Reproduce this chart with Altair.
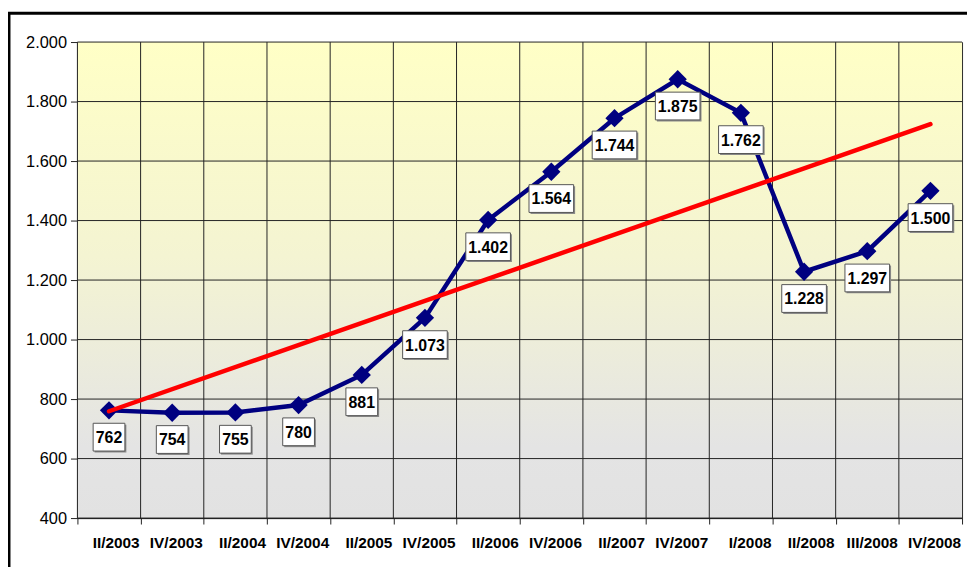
import altair as alt
import pandas as pd

categories = ["II/2003", "IV/2003", "II/2004", "IV/2004", "II/2005", "IV/2005",
              "II/2006", "IV/2006", "II/2007", "IV/2007", "I/2008", "II/2008",
              "III/2008", "IV/2008"]
values = [762, 754, 755, 780, 881, 1073, 1402, 1564, 1744, 1875, 1762, 1228, 1297, 1500]
trend_cats = ["II/2003", "IV/2008"]
trend_vals = [759, 1724]
y_ticks = [400, 600, 800, 1000, 1200, 1400, 1600, 1800, 2000]

df = pd.DataFrame({"cat": categories, "value": values})
df["w"] = ["s" if v < 1000 else "l" for v in values]
trend_df = pd.DataFrame({"cat": trend_cats, "value": trend_vals})
grid_df = pd.DataFrame({"v": y_ticks})

W, H = 892, 480
FONT = "Liberation Sans"

xscale = alt.Scale(type="band", domain=categories, paddingInner=0, paddingOuter=0)
yscale = alt.Scale(domain=[400, 2000], nice=False, zero=False)

x_enc = alt.X("cat:N", scale=xscale, sort=categories,
              axis=alt.Axis(title=None, labelAngle=0, tickBand="extent",
                            labelOffset=W / len(categories) / 2 - 1.5,
                            grid=False, labelFont=FONT, labelFontSize=15.5,
                            labelFontWeight="bold", labelColor="black", labelPadding=19,
                            tickSize=6, tickColor="#222", domainColor="#222",
                            labelLimit=200))
y_enc = alt.Y("value:Q", scale=yscale,
              axis=alt.Axis(title=None, values=y_ticks, grid=False, labelFont=FONT,
                            labelFontSize=16.5, labelColor="black", tickSize=7,
                            tickColor="#222", domain=False, labelPadding=4,
                            labelExpr="replace(format(datum.value, ',.0f'), ',', '.')"))

one = alt.Data(values=[{}])

background = alt.Chart(one).mark_rect(
    fill={"gradient": "linear", "x1": 0, "y1": 0, "x2": 0, "y2": 1,
          "stops": [{"offset": 0, "color": "#FFFFC6"},
                    {"offset": 0.45, "color": "#F4F4D2"},
                    {"offset": 0.85, "color": "#E4E4E4"},
                    {"offset": 1, "color": "#E2E2E2"}]}
).encode(x=alt.value(0), x2=alt.value("width"), y=alt.value(0), y2=alt.value("height"))

frame = alt.Chart(one).mark_rect(fill=None, stroke="black", strokeWidth=3).encode(
    x=alt.value(-69), x2=alt.value(W + 40), y=alt.value(-29), y2=alt.value(H + 80))

hgrid = alt.Chart(grid_df).mark_rule(color="#222", strokeWidth=1).encode(
    y=alt.Y("v:Q", scale=yscale), x=alt.value(0), x2=alt.value("width"))

vgrid = alt.Chart(df).mark_rule(color="#222", strokeWidth=1).encode(
    x=alt.X("cat:N", scale=xscale, sort=categories, bandPosition=0),
    y=alt.value(0), y2=alt.value("height"))

line = alt.Chart(df).mark_line(color="#000080", strokeWidth=4.5).encode(x=x_enc, y=y_enc)
points = alt.Chart(df).mark_point(shape="diamond", filled=True, color="#000080",
                                  size=340, opacity=1).encode(x=x_enc, y=y_enc)

trend = alt.Chart(trend_df).mark_line(color="#FF0000", strokeWidth=4.5,
                                      strokeCap="round").encode(x=x_enc, y=y_enc)

box_s = "M-16,-14H16V14H-16Z"
box_l = "M-22.5,-14H22.5V14H-22.5Z"
shape_enc = alt.Shape("w:N", scale=alt.Scale(domain=["s", "l"], range=[box_s, box_l]),
                      legend=None)

shadow = alt.Chart(df).mark_point(filled=True, color="#8a8a8a", size=4, opacity=1,
                                  xOffset=1.5, yOffset=28.5).encode(
    x=x_enc, y=y_enc, shape=shape_enc)
boxes = alt.Chart(df).mark_point(filled=True, fill="white", stroke="#555",
                                 strokeWidth=1, size=4, opacity=1, fillOpacity=1,
                                 yOffset=27).encode(x=x_enc, y=y_enc, shape=shape_enc)
labels = alt.Chart(df).transform_calculate(
    lab="replace(format(datum.value, ',.0f'), ',', '.')"
).mark_text(font=FONT, fontSize=16, fontWeight="bold", color="black",
            baseline="middle", yOffset=28).encode(x=x_enc, y=y_enc, text="lab:N")

chart = alt.layer(background, hgrid, vgrid, line, points, trend, shadow, boxes, labels,
                  frame).properties(
    width=W, height=H,
    padding={"left": 70, "top": 32, "right": 5, "bottom": 47},
    autosize=alt.AutoSizeParams(type="none"),
    background="white",
).configure_view(stroke="#222", strokeWidth=1)

chart.save("out.html", embed_options={"renderer": "svg", "actions": False})
